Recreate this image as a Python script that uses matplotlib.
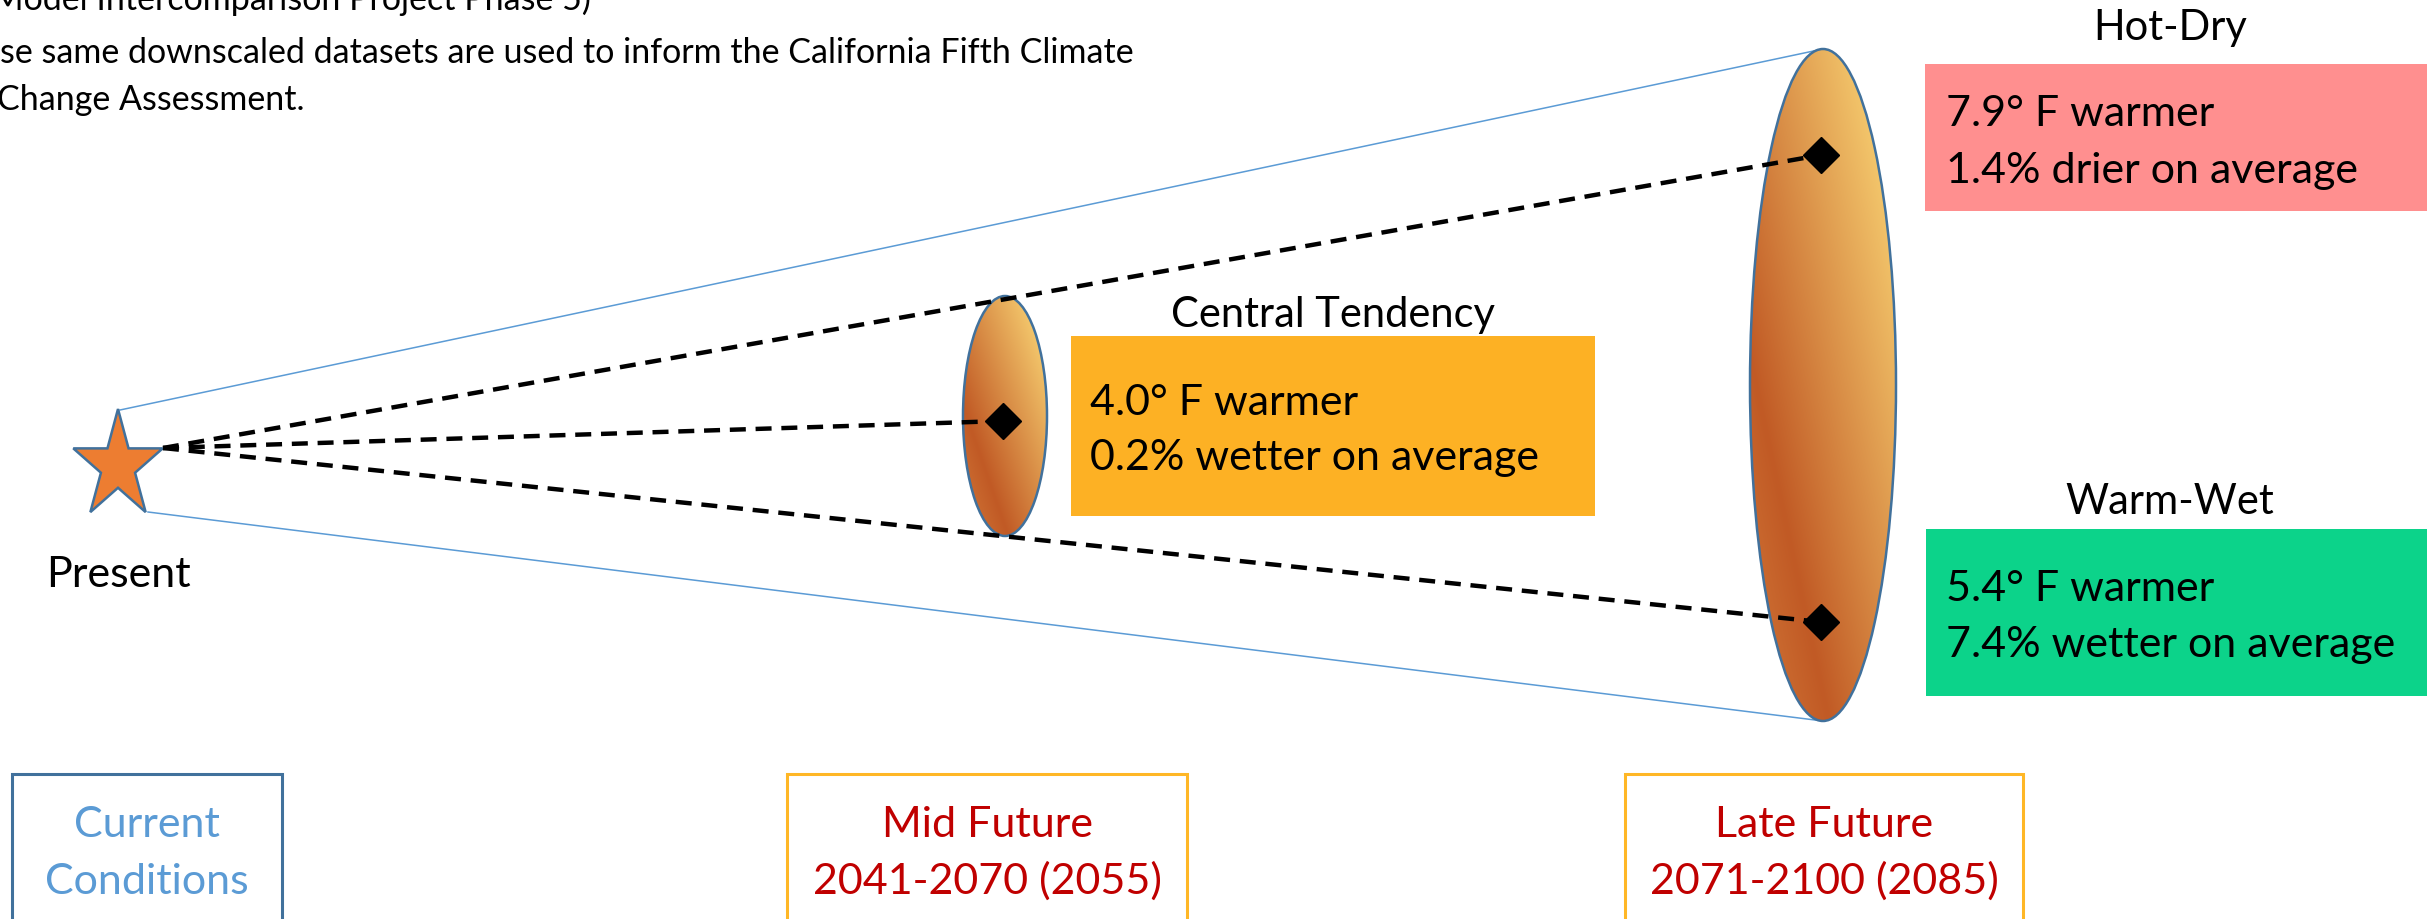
import numpy as np
import matplotlib.pyplot as plt
from matplotlib.patches import Ellipse, Polygon, Rectangle
from matplotlib.colors import LinearSegmentedColormap

plt.rcParams['font.family'] = ['Lato', 'DejaVu Sans']

# projected change by scenario
scenarios = ["Central Tendency", "Hot-Dry", "Warm-Wet"]
warming_f = [4.0, 7.9, 5.4]
precip_pct = [0.2, -1.4, 7.4]
box_colors = ["#FDB124", "#FF8F8F", "#0CD38A"]

# time periods along the bottom
periods = ["Current\nConditions", "Mid Future\n2041-2070 (2055)", "Late Future\n2071-2100 (2085)"]
period_text_colors = ["#5B9BD5", "#C00000", "#C00000"]
period_edge_colors = ["#41719C", "#FFB726", "#FFB726"]

notes = ["Model Intercomparison Project Phase 5)",
         "These same downscaled datasets are used to inform the California Fifth Climate",
         "Change Assessment."]

W, H = 2427, 920
fig = plt.figure(figsize=(W / 100, H / 100), dpi=100)
ax = fig.add_axes([0, 0, 1, 1])
ax.set_xlim(0, W)
ax.set_ylim(H, 0)
ax.axis('off')

grad = LinearSegmentedColormap.from_list(
    'cone', [(0, '#D37A3A'), (0.27, '#C15A25'), (1, '#FFE07C')])


def shaded_ellipse(cx, cy, hw, hh):
    e = Ellipse((cx, cy), 2 * hw, 2 * hh, facecolor='none',
                edgecolor='#41719C', lw=1.8, zorder=4)
    ax.add_patch(e)
    u = np.linspace(0, 1, 300)[None, :]
    v = np.linspace(0, 1, 600)[:, None]
    t = (u + 1 - v) / 2
    im = ax.imshow(t, cmap=grad, vmin=0, vmax=1, origin='upper',
                   extent=(cx - hw, cx + hw, cy + hh, cy - hh),
                   aspect='auto', interpolation='bilinear', zorder=3)
    im.set_clip_path(e)


# star for the present
sx, sy, rx, ry = 118, 467, 47, 57
ang = np.pi / 2 + np.arange(10) * np.pi / 5
rad = np.where(np.arange(10) % 2 == 0, 1.0, 0.382)
star = np.column_stack([sx + rx * rad * np.cos(ang), sy - ry * rad * np.sin(ang)])
ax.add_patch(Polygon(star, closed=True, facecolor='#ED7D31',
                     edgecolor='#41719C', lw=1.8, zorder=5))
ax.text(118, 587, "Present", fontsize=31, ha='center', va='baseline')

# cone outline out to the late future spread
big = (1823, 386, 73, 336)
ax.plot([120, big[0]], [411, big[1] - big[3]], color='#5B9BD5', lw=1.1, zorder=2)
ax.plot([148, big[0]], [513, big[1] + big[3]], color='#5B9BD5', lw=1.1, zorder=2)

shaded_ellipse(1005, 417, 42, 120)
shaded_ellipse(*big)

# scenario paths and end points
ends_x = [1003, 1821, 1821]
ends_y = [422, 156, 623]
for x, y in zip(ends_x, ends_y):
    ax.plot([163, x], [449, y], color='black', lw=3.2,
            linestyle=(0, (3.6, 2.2)), zorder=6)
ax.plot(ends_x, ends_y, linestyle='none', marker='D', ms=18,
        color='black', zorder=7)

# scenario boxes
boxes = [(1071, 337, 524, 180), (1925, 65, 502, 147), (1926, 530, 501, 167)]
title_pos = [(1333, 327), (2170, 40), (2170, 514)]
text_pos = [(1090, 415, 470), (1946, 126, 183), (1946, 601, 657)]
for i, name in enumerate(scenarios):
    bx, by, bw, bh = boxes[i]
    ax.add_patch(Rectangle((bx, by), bw, bh, facecolor=box_colors[i],
                           edgecolor='none', zorder=1))
    ax.text(*title_pos[i], name, fontsize=30, ha='center', va='baseline')
    p = precip_pct[i]
    tx, b1, b2 = text_pos[i]
    ax.text(tx, b1, f"{warming_f[i]:.1f}° F warmer", fontsize=31, va='baseline')
    ax.text(tx, b2, f"{abs(p):.1f}% {'wetter' if p >= 0 else 'drier'} on average",
            fontsize=31, va='baseline')

# period boxes along the bottom, cut by the lower edge
period_x = [147, 987, 1824]
period_w = [270, 400, 398]
for i, label in enumerate(periods):
    ax.add_patch(Rectangle((period_x[i] - period_w[i] / 2, 775), period_w[i], 250,
                           facecolor='white', edgecolor=period_edge_colors[i],
                           lw=2.2, zorder=1, clip_on=False))
    top, bottom = label.split("\n")
    ax.text(period_x[i], 837, top, fontsize=31, ha='center', va='baseline',
            color=period_text_colors[i])
    ax.text(period_x[i], 894, bottom, fontsize=31, ha='center', va='baseline',
            color=period_text_colors[i])

# notes running off the top left
ax.text(-8, 10, notes[0], fontsize=24.5, va='baseline')
ax.text(-57, 63, notes[1], fontsize=24.5, va='baseline')
ax.text(-3, 110, notes[2], fontsize=24.5, va='baseline')

fig.savefig('out.png', dpi=100)
